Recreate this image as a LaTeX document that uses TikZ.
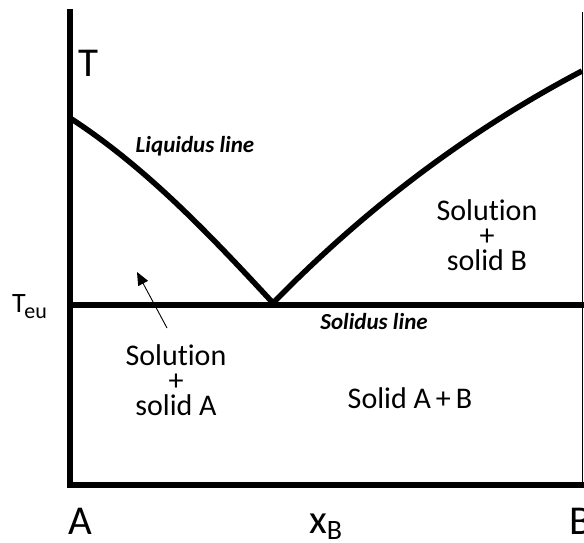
\documentclass[tikz,border=0pt]{standalone}
\usepackage{fontspec}
\setmainfont{Carlito}[Ligatures=NoCommon]
\usetikzlibrary{arrows.meta}
\tikzset{
  axisline/.style={line width=6pt, line join=miter},
  curveline/.style={line width=5.5pt, line join=round},
  thinline/.style={line width=1.5pt},
  region/.style={align=center, font=\fontsize{30}{25}\selectfont, inner sep=0pt},
  linelabel/.style={font=\fontsize{23}{26}\selectfont\bfseries\itshape, inner sep=0pt, anchor=base},
  bigletter/.style={font=\fontsize{41}{48}\selectfont, inner sep=0pt, anchor=base},
  pointer/.style={line width=0.9pt, -{Triangle[length=13pt,width=11pt]}}
}
\begin{document}
\begin{tikzpicture}[x=1pt,y=-1pt]
\useasboundingbox[fill=white] (0,0) rectangle (584,543);
% coordinates
\coordinate (top) at (70,9);
\coordinate (corner) at (70,485);
\coordinate (right) at (584,485);
\coordinate (eul) at (70,305);
\coordinate (eur) at (584,305);
\coordinate (liqA) at (70,118);
\coordinate (eut) at (273,303);
\coordinate (liqB) at (582,71);
\coordinate (rtop) at (582.5,12);
\coordinate (rbot) at (582.5,485);
% axes
\draw[axisline] (top) -- (corner) -- (right);
\draw[thinline] (rtop) -- (rbot);
\draw[axisline] (eul) -- (eur);
% liquidus
\draw[curveline] (liqA) .. controls (147,168) and (211,236) .. (eut)
  .. controls (366,208) and (468,131) .. (liqB);
% labels
\node[bigletter] (T) at (88,77) {T};
\node[inner sep=0pt, anchor=base west] (Teu) at (12,312) {\fontsize{28}{32}\selectfont T\kern-1.5pt\raisebox{-6pt}{\fontsize{22}{24}\selectfont eu}};
\node[linelabel] (liq) at (195,152) {Liquidus line};
\node[linelabel] (sol) at (374,329) {Solidus line};
\node[region, anchor=base] (solA) at (176,415) {Solution\\+\\solid A};
\node[region, anchor=base] (solB) at (487,270) {Solution\\+\\solid B};
\node[region, anchor=base] (AB) at (410,408) {Solid A\,+\,B};
\coordinate (arrtail) at (167,328);
\coordinate (arrhead) at (137,272);
\draw[pointer] (arrtail) -- (arrhead);
\node[bigletter] (A) at (80,534) {A};
\node[inner sep=0pt, anchor=base west] (xB) at (309,533) {\fontsize{41}{48}\selectfont x\raisebox{-6pt}{\fontsize{28}{32}\selectfont B}};
\node[bigletter, anchor=base west] (B) at (569,534) {B};
\end{tikzpicture}
\end{document}
